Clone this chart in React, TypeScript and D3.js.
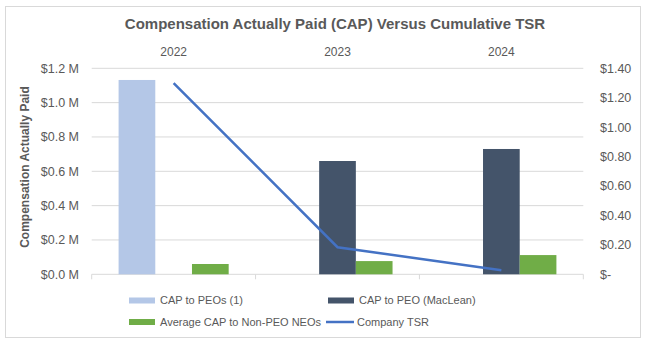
import React from "react";
import * as d3 from "d3";

const years = ["2022", "2023", "2024"];
const seriesNames = ["CAP to PEOs (1)", "CAP to PEO (MacLean)", "Average CAP to Non-PEO NEOs"];
const capPEOs = [1.132, 0, 0];
const capMacLean = [0, 0.66, 0.73];
const capNonPEO = [0.06, 0.077, 0.112];
const tsr = [1.3, 0.184, 0.028];
const leftTicks = [0, 0.2, 0.4, 0.6, 0.8, 1.0, 1.2];
const rightTicks = [0, 0.2, 0.4, 0.6, 0.8, 1.0, 1.2, 1.4];
const colors = ["#b4c7e7", "#44546a", "#70ad47"];
const lineColor = "#4472c4";
const textColor = "#595959";
const font = "'Liberation Sans', Arial, sans-serif";

export default function App() {
  const W = 646, H = 342;
  const left = 91.7, right = 583.3, top = 68.3, bottom = 274.3;
  const x0 = d3.scaleBand().domain(years).range([left, right]).padding(0);
  const x1 = d3.scaleBand().domain(seriesNames).range([0, x0.bandwidth()]).paddingInner(0).paddingOuter(0.733);
  const yL = d3.scaleLinear().domain([0, 1.2]).range([bottom, top]);
  const yR = d3.scaleLinear().domain([0, 1.4]).range([bottom, top]);
  const series = [capPEOs, capMacLean, capNonPEO];
  const line = d3.line<number>().x((_, i) => x0(years[i])! + x0.bandwidth() / 2).y((d) => yR(d));

  const legend = [
    { name: seriesNames[0], type: "bar", color: colors[0], x: 129, y: 300.5 },
    { name: seriesNames[1], type: "bar", color: colors[1], x: 328, y: 300.5 },
    { name: seriesNames[2], type: "bar", color: colors[2], x: 129, y: 322 },
    { name: "Company TSR", type: "line", color: lineColor, x: 326, y: 322 },
  ];

  return (
    <svg width={W} height={H} style={{ position: "absolute", left: 0, top: 0 }} fontFamily={font}>
      <rect x={0} y={0} width={W} height={H} fill="#fff" />
      <rect x={5.5} y={6.5} width={635} height={331} fill="none" stroke="#d9d9d9" strokeWidth={1} />
      <text x={335} y={29} textAnchor="middle" fontSize={15} fontWeight="bold" fill={textColor}>
        Compensation Actually Paid (CAP) Versus Cumulative TSR
      </text>
      {years.map((y) => (
        <text key={y} x={x0(y)! + x0.bandwidth() / 2} y={56} textAnchor="middle" fontSize={12} fill={textColor}>
          {y}
        </text>
      ))}
      {leftTicks.map((t) => (
        <g key={t}>
          <line x1={left} x2={right} y1={yL(t)} y2={yL(t)} stroke="#d9d9d9" strokeWidth={1} />
          <text x={79} y={yL(t)} dy="0.35em" textAnchor="end" fontSize={12.5} fill={textColor}>
            {"$" + t.toFixed(1) + " M"}
          </text>
        </g>
      ))}
      {rightTicks.map((t) => (
        <text key={t} x={600} y={yR(t)} dy="0.35em" textAnchor="start" fontSize={12.5} fill={textColor}>
          {t === 0 ? "$-" : "$" + t.toFixed(2)}
        </text>
      ))}
      {years.map((y, i) => (
        <line key={"tk" + i} x1={x0(y)!} x2={x0(y)!} y1={bottom} y2={bottom + 5} stroke="#d9d9d9" />
      ))}
      <line x1={right} x2={right} y1={bottom} y2={bottom + 5} stroke="#d9d9d9" />
      <text
        transform={`translate(29,167) rotate(-90)`}
        textAnchor="middle"
        fontSize={12}
        fontWeight="bold"
        fill={textColor}
      >
        Compensation Actually Paid
      </text>
      {series.map((vals, si) =>
        vals.map((v, i) =>
          v > 0 ? (
            <rect
              key={si + "-" + i}
              x={x0(years[i])! + x1(seriesNames[si])!}
              y={yL(v)}
              width={x1.bandwidth()}
              height={bottom - yL(v)}
              fill={colors[si]}
            />
          ) : null
        )
      )}
      <path d={line(tsr)!} fill="none" stroke={lineColor} strokeWidth={2.5} />
      {legend.map((l) => (
        <g key={l.name}>
          {l.type === "bar" ? (
            <rect x={l.x} y={l.y - 3} width={26} height={6} fill={l.color} />
          ) : (
            <line x1={l.x} x2={l.x + 28} y1={l.y} y2={l.y} stroke={l.color} strokeWidth={2.5} />
          )}
          <text x={l.x + 31} y={l.y} dy="0.35em" fontSize={11} fill={textColor}>
            {l.name}
          </text>
        </g>
      ))}
    </svg>
  );
}
